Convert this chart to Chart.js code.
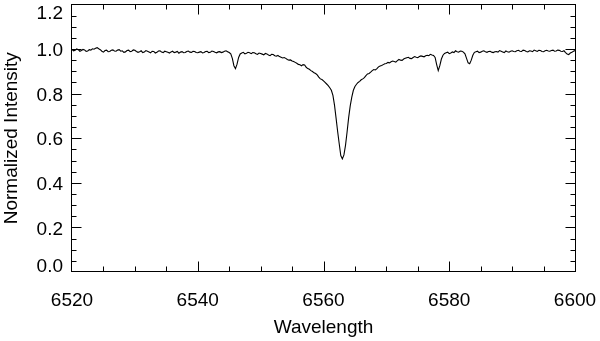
<!DOCTYPE html>
<html><head><meta charset="utf-8">
<script src="https://cdn.jsdelivr.net/npm/chart.js@4/dist/chart.umd.min.js"></script>
<style>html,body{margin:0;padding:0;background:#fff}#wrap{width:600px;height:341px}canvas{display:block}</style>
</head><body><div id="wrap"><canvas id="c" width="600" height="341"></canvas></div>
<script>
// ---- data ----
const wavelengthStart = 6520;   // Angstrom
const wavelengthStep = 0.25;    // sampling of the typed values
const intensity = [
  // 6520.00 - 6530.00
  0.998,0.992,0.994,1.000,0.997,0.990,0.993,0.998,0.996,0.989,0.991,0.997,0.995,1.001,0.999,1.003,1.006,1.001,0.997,0.990,
  0.986,0.993,0.995,0.988,0.989,0.994,0.996,0.991,0.990,0.995,0.997,0.990,0.992,0.985,0.987,0.993,0.995,0.988,0.990,0.996,0.994,
  // 6530.25 - 6540.00
  0.989,0.985,0.988,0.992,0.984,0.986,0.993,0.990,0.987,0.983,0.990,0.989,0.982,0.985,0.991,0.992,0.986,0.984,0.990,0.988,
  0.985,0.982,0.987,0.990,0.984,0.986,0.989,0.981,0.986,0.988,0.983,0.984,0.989,0.991,0.986,0.985,0.990,0.989,0.984,0.983,
  // 6540.25 - 6550.00
  0.986,0.988,0.982,0.984,0.989,0.990,0.984,0.985,0.991,0.989,0.985,0.983,0.987,0.988,0.984,0.986,0.990,0.992,0.988,0.984,
  0.978,0.958,0.925,0.912,0.932,0.962,0.978,0.982,0.985,0.978,0.981,0.985,0.983,0.979,0.984,0.983,0.979,0.976,0.982,0.980,
  // 6550.25 - 6560.00
  0.977,0.974,0.980,0.978,0.973,0.970,0.976,0.975,0.970,0.968,0.971,0.966,0.963,0.960,0.962,0.958,0.953,0.950,0.951,0.946,
  0.944,0.940,0.936,0.931,0.929,0.925,0.930,0.928,0.918,0.912,0.909,0.903,0.899,0.893,0.890,0.884,0.874,0.866,0.863,0.857,
  // 6560.25 - 6570.00
  0.850,0.843,0.836,0.826,0.815,0.792,0.748,0.690,0.630,0.575,0.522,0.507,0.525,0.568,0.628,0.692,0.745,0.784,0.815,0.832,
  0.842,0.850,0.855,0.862,0.866,0.872,0.881,0.888,0.890,0.896,0.903,0.908,0.906,0.912,0.920,0.924,0.926,0.930,0.934,0.935,
  // 6570.25 - 6580.00
  0.940,0.938,0.943,0.946,0.944,0.941,0.948,0.953,0.950,0.949,0.955,0.958,0.961,0.963,0.958,0.957,0.962,0.966,0.963,0.961,
  0.966,0.969,0.967,0.965,0.970,0.972,0.970,0.976,0.973,0.971,0.962,0.930,0.903,0.925,0.955,0.972,0.980,0.983,0.986,0.979,
  // 6580.25 - 6590.00
  0.982,0.987,0.984,0.992,0.988,0.986,0.991,0.990,0.986,0.978,0.958,0.938,0.934,0.950,0.972,0.985,0.988,0.990,0.984,0.986,
  0.990,0.992,0.988,0.985,0.989,0.990,0.986,0.984,0.988,0.989,0.986,0.993,0.990,0.987,0.984,0.991,0.988,0.986,0.990,0.992,
  // 6590.25 - 6600.00
  0.989,0.988,0.992,0.994,0.990,0.989,0.995,0.993,0.989,0.987,0.992,0.991,0.988,0.995,0.992,0.989,0.994,0.993,0.989,0.988,
  0.992,0.994,0.991,0.990,0.993,0.995,0.990,0.991,0.995,0.994,0.990,0.989,0.992,0.984,0.978,0.975,0.982,0.985,0.990,0.993
];
const xTickLabels = [6520, 6540, 6560, 6580, 6600];
const yTickLabels = [0.0, 0.2, 0.4, 0.6, 0.8, 1.0, 1.2];
const xTitle = 'Wavelength';
const yTitle = 'Normalized Intensity';

// ---- build points ----
const points = intensity.map((v, i) => ({ x: wavelengthStart + i * wavelengthStep, y: v }));

const FONT = { family: '"Liberation Sans", Arial, Helvetica, sans-serif', size: 19 };

const frameTicks = {
  id: 'frameTicks',
  beforeDraw(chart) {
    try {
      const items = chart.scales.y.getLabelItems();
      if (!items._adj) {
        items.forEach(it => {
          let dy = 2;
          if (it.label === '1.2') dy = 9.6;
          else if (it.label === '0.0') dy = -5.6;
          it.options.translation[1] += dy;
        });
        items._adj = true;
      }
    } catch (e) {}
  },
  afterDatasetsDraw(chart) {
    const { ctx, chartArea: a, scales: { x, y } } = chart;
    ctx.save();
    ctx.strokeStyle = '#000';
    ctx.lineWidth = 1;
    const L = Math.round(a.left) - 0.5, R = Math.round(a.right) + 0.5;
    const T = Math.round(a.top) + 0.5, B = Math.round(a.bottom) - 0.5;
    ctx.strokeRect(L, T, R - L, B - T);
    ctx.beginPath();
    for (let k = 1; k < 16; k++) {
      const v = x.min + k * 5;
      const px = Math.round(x.getPixelForValue(v)) + 0.5;
      const len = (k % 4 === 0) ? 10 : 5;
      ctx.moveTo(px, B); ctx.lineTo(px, B - len);
      ctx.moveTo(px, T); ctx.lineTo(px, T + len);
    }
    for (let k = 1; k < 24; k++) {
      const v = y.min + k * 0.05;
      const py = Math.round(y.getPixelForValue(v)) + 0.5;
      const len = (k % 4 === 0) ? 10 : 5;
      ctx.moveTo(L, py); ctx.lineTo(L + len, py);
      ctx.moveTo(R, py); ctx.lineTo(R - len, py);
    }
    ctx.stroke();
    ctx.restore();
  }
};

new Chart(document.getElementById('c'), {
  type: 'line',
  data: {
    datasets: [{
      data: points,
      borderColor: '#000',
      borderWidth: 1.1,
      pointRadius: 0,
      tension: 0,
      fill: false
    }]
  },
  options: {
    responsive: false,
    animation: false,
    devicePixelRatio: 1,
    layout: { padding: { left: 0, right: 25, top: 4.4, bottom: 2 } },
    plugins: { legend: { display: false }, tooltip: { enabled: false } },
    scales: {
      x: {
        type: 'linear',
        min: xTickLabels[0],
        max: xTickLabels[xTickLabels.length - 1],
        afterBuildTicks: s => { s.ticks = xTickLabels.map(v => ({ value: v })); },
        ticks: { font: FONT, color: '#000', padding: 17, maxRotation: 0, autoSkip: false, callback: v => String(v) },
        grid: { display: false, drawTicks: false },
        border: { display: false },
        title: { display: true, text: xTitle, font: FONT, color: '#000', padding: 0 },
        afterFit: s => { s.height = 67; s.paddingLeft = 0; s.paddingRight = 0; }
      },
      y: {
        type: 'linear',
        min: yTickLabels[0],
        max: yTickLabels[yTickLabels.length - 1],
        afterBuildTicks: s => { s.ticks = yTickLabels.map(v => ({ value: v })); },
        ticks: { font: FONT, color: '#000', padding: 9, autoSkip: false, callback: v => Number(v).toFixed(1) },
        grid: { display: false, drawTicks: false },
        border: { display: false },
        title: { display: true, text: yTitle, font: FONT, color: '#000', padding: 0 },
        afterFit: s => { s.width = 72; s.paddingTop = 0; s.paddingBottom = 0; }
      }
    }
  },
  plugins: [frameTicks]
});
</script>
</body></html>
